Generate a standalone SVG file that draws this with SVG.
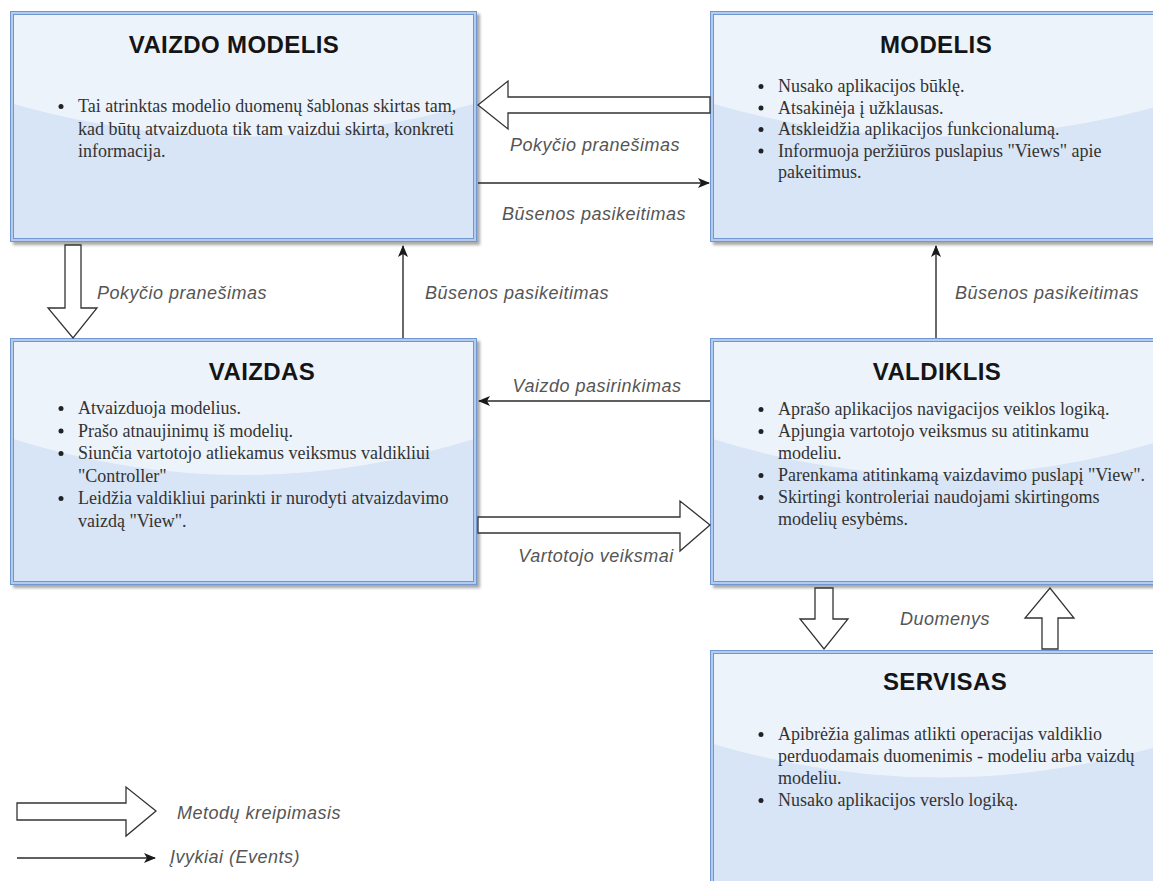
<svg xmlns="http://www.w3.org/2000/svg" width="1153" height="881" viewBox="0 0 1153 881">
<style>
.shadow{fill:#8a8a8a;opacity:0.75;filter:url(#blur)}
.base{fill:#d7e5f7}
.gloss{fill:#ffffff;opacity:0.55}
.band{fill:none;stroke:#b3cbee;stroke-width:3}
.edge{fill:none;stroke:#7097d0;stroke-width:1}
.title{font-family:"Liberation Sans",Arial,sans-serif;font-weight:bold;font-size:24px;fill:#151515;text-anchor:middle;letter-spacing:0.4px}
.body{font-family:"Liberation Serif","Times New Roman",serif;font-size:18px;fill:#333}
.dot{fill:#222}
.lbl{font-family:"Liberation Sans",Arial,sans-serif;font-style:italic;font-size:18px;fill:#555;letter-spacing:0.5px}
.mid{text-anchor:middle}
.hollow{fill:#fff;stroke:#333;stroke-width:1.3;stroke-linejoin:miter}
.thin{fill:none;stroke:#2a2a2a;stroke-width:1.4;marker-end:url(#ah)}
</style>
<defs>
<filter id="blur" x="-5%" y="-5%" width="110%" height="110%"><feGaussianBlur stdDeviation="1.5"/></filter>
<marker id="ah" viewBox="0 0 12 10" refX="11" refY="5" markerWidth="12" markerHeight="10" markerUnits="userSpaceOnUse" orient="auto">
<path d="M0,0 L12,5 L0,10 L3,5 Z" fill="#1a1a1a"/>
</marker>
</defs>
<rect width="1153" height="881" fill="#fff"/>

<g id="vaizdo-modelis">
<rect class="shadow" x="13" y="14" width="467" height="231"/>
<rect class="base" x="10" y="11" width="467" height="231"/>
<path class="gloss" d="M10,11 H477 V103 Q243.5,170 10,103 Z"/>
<rect class="band" x="11.5" y="12.5" width="464" height="228"/>
<rect class="edge" x="10.5" y="11.5" width="466" height="230"/>
<rect class="edge" x="13.5" y="14.5" width="460" height="224"/>
<text class="title" x="234" y="53">VAIZDO MODELIS</text>
<circle class="dot" cx="61" cy="106.5" r="2.5"/>
<text class="body" x="78" y="112">Tai atrinktas modelio duomenų šablonas skirtas tam,</text>
<text class="body" x="78" y="134.5">kad būtų atvaizduota tik tam vaizdui skirta, konkreti</text>
<text class="body" x="78" y="157">informacija.</text>
</g>

<g id="modelis">
<rect class="shadow" x="713" y="14" width="460" height="231"/>
<rect class="base" x="710" y="11" width="460" height="231"/>
<path class="gloss" d="M710,11 H1170 V103 Q940,170 710,103 Z"/>
<rect class="band" x="711.5" y="12.5" width="457" height="228"/>
<rect class="edge" x="710.5" y="11.5" width="459" height="230"/>
<rect class="edge" x="713.5" y="14.5" width="453" height="224"/>
<text class="title" x="936" y="53">MODELIS</text>
<circle class="dot" cx="761" cy="86.5" r="2.5"/>
<text class="body" x="778" y="92">Nusako aplikacijos būklę.</text>
<circle class="dot" cx="761" cy="108" r="2.5"/>
<text class="body" x="778" y="113.5">Atsakinėja į užklausas.</text>
<circle class="dot" cx="761" cy="129.5" r="2.5"/>
<text class="body" x="778" y="135">Atskleidžia aplikacijos funkcionalumą.</text>
<circle class="dot" cx="761" cy="151" r="2.5"/>
<text class="body" x="778" y="156.5">Informuoja peržiūros puslapius "Views" apie</text>
<text class="body" x="778" y="178">pakeitimus.</text>
</g>

<g id="vaizdas">
<rect class="shadow" x="13" y="341" width="467" height="247"/>
<rect class="base" x="10" y="338" width="467" height="247"/>
<path class="gloss" d="M10,338 H477 V438 Q243.5,512 10,438 Z"/>
<rect class="band" x="11.5" y="339.5" width="464" height="244"/>
<rect class="edge" x="10.5" y="338.5" width="466" height="246"/>
<rect class="edge" x="13.5" y="341.5" width="460" height="240"/>
<text class="title" x="262" y="380">VAIZDAS</text>
<circle class="dot" cx="61" cy="408.5" r="2.5"/>
<text class="body" x="78" y="414">Atvaizduoja modelius.</text>
<circle class="dot" cx="61" cy="431" r="2.5"/>
<text class="body" x="78" y="436.5">Prašo atnaujinimų iš modelių.</text>
<circle class="dot" cx="61" cy="453.5" r="2.5"/>
<text class="body" x="78" y="459">Siunčia vartotojo atliekamus veiksmus valdikliui</text>
<text class="body" x="78" y="481.5">"Controller"</text>
<circle class="dot" cx="61" cy="498.5" r="2.5"/>
<text class="body" x="78" y="504">Leidžia valdikliui parinkti ir nurodyti atvaizdavimo</text>
<text class="body" x="78" y="526.5">vaizdą "View".</text>
</g>

<g id="valdiklis">
<rect class="shadow" x="713" y="341" width="460" height="247"/>
<rect class="base" x="710" y="338" width="460" height="247"/>
<path class="gloss" d="M710,338 H1170 V438 Q940,512 710,438 Z"/>
<rect class="band" x="711.5" y="339.5" width="457" height="244"/>
<rect class="edge" x="710.5" y="338.5" width="459" height="246"/>
<rect class="edge" x="713.5" y="341.5" width="453" height="240"/>
<text class="title" x="937" y="380">VALDIKLIS</text>
<circle class="dot" cx="761" cy="409.5" r="2.5"/>
<text class="body" x="778" y="415">Aprašo aplikacijos navigacijos veiklos logiką.</text>
<circle class="dot" cx="761" cy="431.5" r="2.5"/>
<text class="body" x="778" y="437">Apjungia vartotojo veiksmus su atitinkamu</text>
<text class="body" x="778" y="459">modeliu.</text>
<circle class="dot" cx="761" cy="475.5" r="2.5"/>
<text class="body" x="778" y="481">Parenkama atitinkamą vaizdavimo puslapį "View".</text>
<circle class="dot" cx="761" cy="497.5" r="2.5"/>
<text class="body" x="778" y="503">Skirtingi kontroleriai naudojami skirtingoms</text>
<text class="body" x="778" y="525">modelių esybėms.</text>
</g>

<g id="servisas">
<rect class="shadow" x="713" y="653" width="460" height="240"/>
<rect class="base" x="710" y="650" width="460" height="240"/>
<path class="gloss" d="M710,650 H1170 V743 Q940,812 710,743 Z"/>
<rect class="band" x="711.5" y="651.5" width="457" height="237"/>
<rect class="edge" x="710.5" y="650.5" width="459" height="239"/>
<rect class="edge" x="713.5" y="653.5" width="453" height="233"/>
<text class="title" x="945" y="690">SERVISAS</text>
<circle class="dot" cx="761" cy="734.5" r="2.5"/>
<text class="body" x="778" y="740">Apibrėžia galimas atlikti operacijas valdiklio</text>
<text class="body" x="778" y="762">perduodamais duomenimis - modeliu arba vaizdų</text>
<text class="body" x="778" y="784">modeliu.</text>
<circle class="dot" cx="761" cy="800.5" r="2.5"/>
<text class="body" x="778" y="806">Nusako aplikacijos verslo logiką.</text>
</g>

<g id="connectors">
<polygon class="hollow" points="710,97 508,97 508,81 478,105 508,129 508,113 710,113"/>
<text class="lbl mid" x="595" y="151">Pokyčio pranešimas</text>
<line class="thin" x1="478" y1="183" x2="709" y2="183"/>
<text class="lbl mid" x="594" y="220">Būsenos pasikeitimas</text>

<polygon class="hollow" points="65,245 81,245 81,308 97,308 73,338 48,308 65,308"/>
<text class="lbl" x="97" y="299">Pokyčio pranešimas</text>
<line class="thin" x1="403" y1="338" x2="403" y2="246"/>
<text class="lbl" x="425" y="299">Būsenos pasikeitimas</text>
<line class="thin" x1="936" y1="338" x2="936" y2="246"/>
<text class="lbl" x="955" y="299">Būsenos pasikeitimas</text>

<line class="thin" x1="710" y1="401" x2="479" y2="401"/>
<text class="lbl mid" x="597" y="392">Vaizdo pasirinkimas</text>
<polygon class="hollow" points="478,517 680,517 680,501 710,525 680,551 680,533 478,533"/>
<text class="lbl mid" x="596" y="562">Vartotojo veiksmai</text>

<polygon class="hollow" points="815,588 833,588 833,619 848,619 824,649 800,619 815,619"/>
<polygon class="hollow" points="1042,649 1058,649 1058,618 1074,618 1050,588 1025,618 1042,618"/>
<text class="lbl mid" x="945" y="625">Duomenys</text>
</g>

<g id="legend">
<polygon class="hollow" points="17,803 126,803 126,787 156,811 126,836 126,820 17,820"/>
<text class="lbl" x="177" y="819">Metodų kreipimasis</text>
<line class="thin" x1="17" y1="858" x2="155" y2="858"/>
<text class="lbl" x="170" y="863">Įvykiai (Events)</text>
</g>
</svg>
